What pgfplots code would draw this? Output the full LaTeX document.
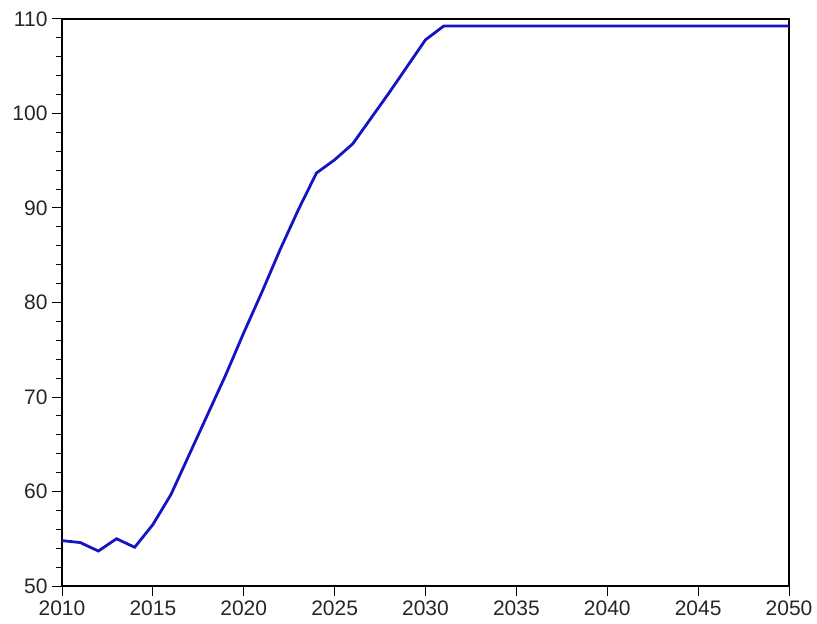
\documentclass[border=0pt]{standalone}
\usepackage{fontspec}
\setmainfont{Liberation Sans}
\usepackage{pgfplots}
\pgfplotsset{compat=1.18}
\definecolor{lineblue}{RGB}{20,20,195}
\begin{document}
\begin{tikzpicture}
\begin{axis}[
  at={(0,0)}, anchor=south west,
  scale only axis, width=727pt, height=567pt,
  xmin=2010, xmax=2050, ymin=50, ymax=110,
  xtick={2010,2015,...,2050}, ytick={50,60,...,110},
  minor y tick num=4,
  tick align=outside,
  xtick pos=left, ytick pos=left,
  major tick length=10pt, minor tick length=6pt,
  every tick/.style={black, line width=1pt},
  axis line style={line width=1.3pt},
  ticklabel style={font=\fontsize{21}{24}\selectfont, text=black!85},
  /pgf/number format/assume math mode=true,
  /pgf/number format/1000 sep={},
  xticklabel style={yshift=-1pt},
  yticklabel style={xshift=-1pt},
]
\addplot[color=lineblue, line width=2.8pt] coordinates {
(2010,54.8) (2011,54.6) (2012,53.7) (2013,55.0) (2014,54.1)
(2015,56.5) (2016,59.7) (2017,63.9) (2018,68.1) (2019,72.3)
(2020,76.8) (2021,81.1) (2022,85.6) (2023,89.8) (2024,93.7)
(2025,95.1) (2026,96.8) (2027,99.5) (2028,102.2) (2029,105.0)
(2030,107.8) (2031,109.25) (2035,109.25) (2040,109.25) (2045,109.25) (2050,109.25)
};
\end{axis}
\useasboundingbox ([shift={(-62pt,-37pt)}]current axis.south west) rectangle ([shift={(28pt,19pt)}]current axis.north east);
\end{tikzpicture}
\end{document}
